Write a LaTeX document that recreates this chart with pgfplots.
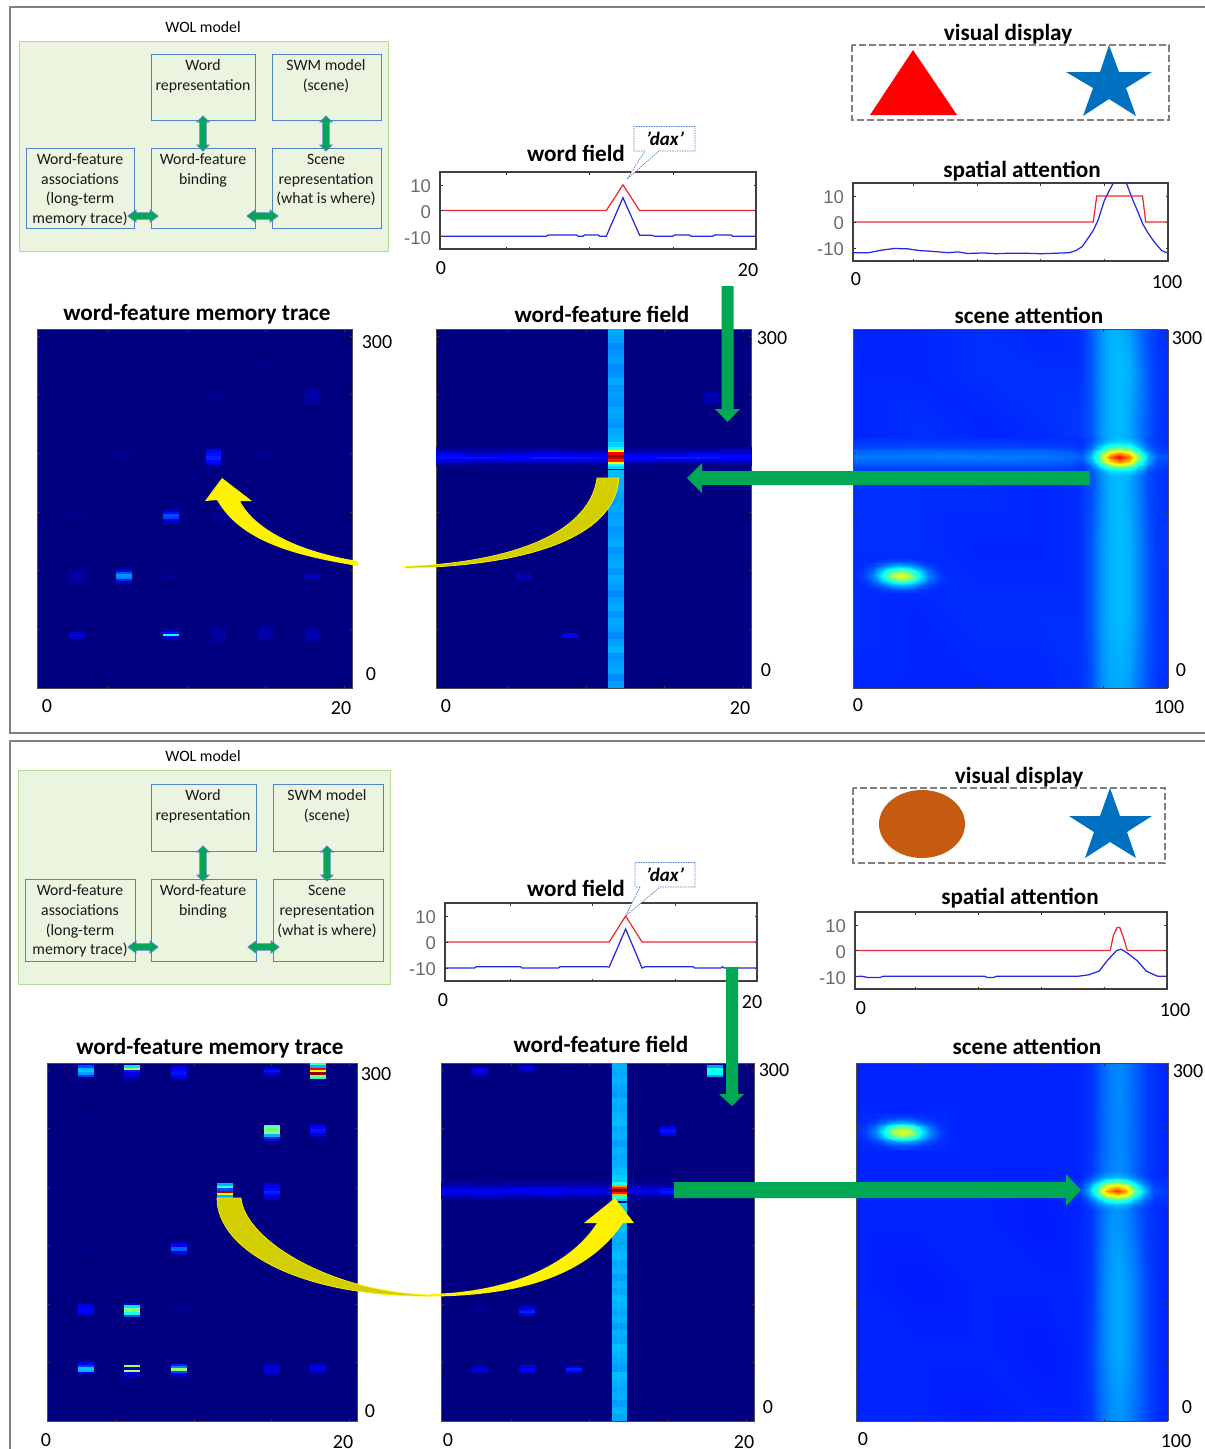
\documentclass[border=0pt]{standalone}
\usepackage{fontspec}
\setmainfont{Carlito}[Ligatures={Common,Rare}]
\newfontfamily\arialf{Liberation Sans}
\usepackage{pgfplots}
\usepackage{pgfplotstable}
\pgfplotsset{compat=1.18}
\definecolor{jetdark}{RGB}{0,0,128}
\definecolor{arrgreen}{RGB}{0,168,84}
\definecolor{boxgreen}{RGB}{234,244,222}
\definecolor{boxgreenb}{RGB}{181,220,149}
\definecolor{boxblue}{RGB}{84,130,200}
\definecolor{frameg}{RGB}{128,128,128}
\definecolor{olive}{RGB}{210,206,0}
\definecolor{starblue}{RGB}{0,112,192}
\definecolor{brownf}{RGB}{197,90,17}
\definecolor{lred}{RGB}{238,40,50}
\definecolor{lblue}{RGB}{40,40,225}
\pgfdeclareplotmark{hstripe}{\pgfpathrectangle{\pgfpoint{-7.8pt}{-1.2pt}}{\pgfpoint{15.6pt}{2.4pt}}\pgfusepathqfill}
\pgfdeclareplotmark{hcolumn}{\pgfpathrectangle{\pgfpoint{-7.8pt}{-3.6pt}}{\pgfpoint{15.6pt}{7.2pt}}\pgfusepathqfill}
\pgfdeclareplotmark{hwide}{\pgfpathrectangle{\pgfpoint{-16pt}{-1.2pt}}{\pgfpoint{32pt}{2.4pt}}\pgfusepathqfill}
\pgfplotsset{
  heat/.style={scale only axis,axis on top,colormap/jet,point meta min=0,point meta max=1,
    xticklabels={},yticklabels={},tick align=inside,
    tick style={black!80,line width=0.6pt},major tick length=2.5pt,
    axis line style={black!70,line width=1pt},
    ymin=0,ymax=306,ytick={50,100,150,200,250,300}},
  word/.style={heat,xmin=0.5,xmax=20.5,xtick={5,10,15,20},axis background/.style={fill=jetdark}},
  scene/.style={heat,xmin=0,xmax=100.5,xtick={20,40,60,80,100},view={0}{90},zmin=0,zmax=1},
  stripes/.style={scatter,only marks,mark=hstripe,point meta=explicit,scatter/use mapped color={draw=none,fill=mapped color}},
  columns/.style={stripes,mark=hcolumn},
  widths/.style={stripes,mark=hwide},
  surfp/.style={surf,shader=interp,mesh/cols=#1,point meta=z},
  line/.style={scale only axis,axis on top,ymin=-15,ymax=15,ytick={-10,0,10},yticklabels={{-10},{0},{10}},
    xticklabels={},tick align=inside,major tick length=2.5pt,
    tick style={black!80,line width=0.6pt},axis line style={black!75,line width=1.2pt},
    y tick label style={font=\arialf\fontsize{18.5}{20}\selectfont,text=black!58},yticklabel style={xshift=-5.5pt,yshift=-1.5pt}},
  redl/.style={lred,line width=1.25pt,no marks},
  bluel/.style={lblue,line width=1.25pt,no marks},
}
% lower-left scene spot, offsets from its centre (value at each grid point)
\pgfplotstableread[row sep=\\]{dx dy v\\
-15 -16 .165\\ -12 -16 .165\\ -9 -16 .165\\ -6 -16 .165\\ -3 -16 .165\\ 0 -16 .165\\ 3 -16 .165\\ 6 -16 .165\\ 9 -16 .165\\ 12 -16 .165\\ 15 -16 .165\\
-15 -12 .165\\ -12 -12 .165\\ -9 -12 .17\\ -6 -12 .18\\ -3 -12 .195\\ 0 -12 .20\\ 3 -12 .195\\ 6 -12 .18\\ 9 -12 .17\\ 12 -12 .165\\ 15 -12 .165\\
-15 -8 .165\\ -12 -8 .17\\ -9 -8 .19\\ -6 -8 .235\\ -3 -8 .285\\ 0 -8 .31\\ 3 -8 .285\\ 6 -8 .235\\ 9 -8 .19\\ 12 -8 .17\\ 15 -8 .165\\
-15 -4 .165\\ -12 -4 .18\\ -9 -4 .23\\ -6 -4 .33\\ -3 -4 .45\\ 0 -4 .505\\ 3 -4 .45\\ 6 -4 .33\\ 9 -4 .23\\ 12 -4 .18\\ 15 -4 .165\\
-15 0 .165\\ -12 0 .19\\ -9 0 .25\\ -6 0 .38\\ -3 0 .54\\ 0 0 .62\\ 3 0 .54\\ 6 0 .38\\ 9 0 .25\\ 12 0 .19\\ 15 0 .165\\
-15 4 .165\\ -12 4 .18\\ -9 4 .23\\ -6 4 .33\\ -3 4 .45\\ 0 4 .505\\ 3 4 .45\\ 6 4 .33\\ 9 4 .23\\ 12 4 .18\\ 15 4 .165\\
-15 8 .165\\ -12 8 .17\\ -9 8 .19\\ -6 8 .235\\ -3 8 .285\\ 0 8 .31\\ 3 8 .285\\ 6 8 .235\\ 9 8 .19\\ 12 8 .17\\ 15 8 .165\\
-15 12 .165\\ -12 12 .165\\ -9 12 .17\\ -6 12 .18\\ -3 12 .195\\ 0 12 .20\\ 3 12 .195\\ 6 12 .18\\ 9 12 .17\\ 12 12 .165\\ 15 12 .165\\
-15 16 .165\\ -12 16 .165\\ -9 16 .165\\ -6 16 .165\\ -3 16 .165\\ 0 16 .165\\ 3 16 .165\\ 6 16 .165\\ 9 16 .165\\ 12 16 .165\\ 15 16 .165\\
}\spotB
\newcommand\tl[3]{\node[anchor=base,font=\fontsize{20}{22}\selectfont] at (#1,#2+6.5) {#3};}
\newcommand\ttl[3]{\node[anchor=base,font=\bfseries\fontsize{23.2}{25}\selectfont] at (#1,#2+7.5) {#3};}
\newcommand\bt[3]{\node[anchor=base,font=\fontsize{15.8}{17}\selectfont,text=black!90] at (#1,#2+5.5) {#3};}
\newcommand\vda[3]{\filldraw[fill=arrgreen,draw=boxblue,line width=0.8pt] (#1,#2) -- (#1+6,#2+6) -- (#1+3.2,#2+6) -- (#1+3.2,#3-6) -- (#1+6,#3-6) -- (#1,#3) -- (#1-6,#3-6) -- (#1-3.2,#3-6) -- (#1-3.2,#2+6) -- (#1-6,#2+6) -- cycle;}
\newcommand\hda[3]{\filldraw[fill=arrgreen,draw=boxblue,line width=0.8pt] (#2,#1) -- (#2+8,#1-6) -- (#2+8,#1-3.2) -- (#3-8,#1-3.2) -- (#3-8,#1-6) -- (#3,#1) -- (#3-8,#1+6) -- (#3-8,#1+3.2) -- (#2+8,#1+3.2) -- (#2+8,#1+6) -- cycle;}
\begin{document}
\begin{tikzpicture}
\begin{scope}[x=1pt,y=-1pt]
\useasboundingbox (0,0) rectangle (1205,1449);
\clip (0,0) rectangle (1205,1449);
\draw[frameg,line width=2pt] (1215,6.5) -- (9.5,6.5) -- (9.5,733) -- (1215,733);
\draw[frameg,line width=2pt] (1215,741) -- (9.5,741) -- (9.5,1460);
\end{scope}

%%% TOP: word-feature memory trace
\begin{axis}[word,at={(37.5pt,-688pt)},anchor=south west,width=314.5pt,height=359pt]
\addplot[stripes] coordinates {
(3,47)[.06] (3,45)[.125] (3,43)[.06]
(9,49)[.06] (9,47)[.14] (9,45)[.38] (9,43)[.08]
(12,51)[.03] (12,49)[.03] (12,47)[.035] (12,45)[.035] (12,43)[.03] (12,41)[.03] (12,39)[.025]
(15,52)[.03] (15,50)[.04] (15,48)[.04] (15,46)[.04] (15,44)[.035] (15,42)[.03]
(18,49)[.04] (18,47)[.05] (18,45)[.05] (18,43)[.045] (18,41)[.035]
(3,100)[.025] (3,98)[.035] (3,96)[.04] (3,94)[.04] (3,92)[.035] (3,90)[.025]
(6,100)[.1] (6,98)[.2] (6,96)[.27] (6,94)[.25] (6,92)[.15] (6,90)[.07]
(9,97)[.02] (9,95)[.025] (9,93)[.02]
(18,97)[.05] (18,95)[.07] (18,93)[.05]
(3,148)[.015] (3,146)[.02] (3,144)[.015]
(9,151)[.07] (9,149)[.13] (9,147)[.2] (9,145)[.18] (9,143)[.1] (9,141)[.05]
(12,148)[.025] (12,146)[.03] (12,144)[.02]
(11.7,203)[.12] (11.7,201)[.13] (11.7,199)[.14] (11.7,197)[.16] (11.7,195)[.16] (11.7,193)[.13] (11.7,191)[.11]
(15,201)[.015] (15,199)[.02] (15,197)[.015]
(6,201)[.012] (6,199)[.02] (6,197)[.012] (6,195)[.02]
(2.3,186)[.015] (2.3,184)[.012]
(12,252)[.012] (12,250)[.025] (12,248)[.02]
(18,253)[.035] (18,251)[.04] (18,249)[.045] (18,247)[.045] (18,245)[.04] (18,243)[.035]
(15,276)[.012] (15,274)[.012]
};
\end{axis}
%%% TOP: word-feature field
\begin{axis}[word,at={(436pt,-688pt)},anchor=south west,width=315.5pt,height=359pt]
\addplot[widths] coordinates {
(1.5,204)[.02] (3.5,204)[.01] (5.5,204)[.02] (7.5,204)[.02] (9.5,204)[.01] (11.5,204)[.01] (13.5,204)[.01] (15.5,204)[.02] (17.5,204)[.02] (19.5,204)[.03]
(1.5,202)[.05] (3.5,202)[.04] (5.5,202)[.05] (7.5,202)[.06] (9.5,202)[.04] (11.5,202)[.04] (13.5,202)[.04] (15.5,202)[.04] (17.5,202)[.05] (19.5,202)[.06]
(1.5,200)[.09] (3.5,200)[.07] (5.5,200)[.08] (7.5,200)[.09] (9.5,200)[.08] (11.5,200)[.08] (13.5,200)[.08] (15.5,200)[.08] (17.5,200)[.09] (19.5,200)[.09]
(1.5,198)[.13] (3.5,198)[.11] (5.5,198)[.12] (7.5,198)[.12] (9.5,198)[.11] (11.5,198)[.11] (13.5,198)[.12] (15.5,198)[.12] (17.5,198)[.13] (19.5,198)[.13]
(1.5,196)[.14] (3.5,196)[.14] (5.5,196)[.13] (7.5,196)[.15] (9.5,196)[.14] (11.5,196)[.13] (13.5,196)[.12] (15.5,196)[.15] (17.5,196)[.15] (19.5,196)[.13]
(1.5,194)[.11] (3.5,194)[.09] (5.5,194)[.1] (7.5,194)[.1] (9.5,194)[.1] (11.5,194)[.1] (13.5,194)[.1] (15.5,194)[.09] (17.5,194)[.1] (19.5,194)[.11]
(1.5,192)[.06] (3.5,192)[.05] (5.5,192)[.05] (7.5,192)[.05] (9.5,192)[.05] (11.5,192)[.05] (13.5,192)[.05] (15.5,192)[.04] (17.5,192)[.04] (19.5,192)[.05]
(1.5,190)[.03] (3.5,190)[.02] (5.5,190)[.02] (7.5,190)[.02] (9.5,190)[.02] (11.5,190)[.02] (13.5,190)[.02] (15.5,190)[.01] (17.5,190)[.01] (19.5,190)[.02]
};
\addplot[columns] coordinates {
(11.9,3)[.28] (11.9,9)[.26] (11.9,15)[.29] (11.9,21)[.28] (11.9,27)[.27] (11.9,33)[.30] (11.9,39)[.28] (11.9,45)[.26] (11.9,51)[.28] (11.9,57)[.29]
(11.9,63)[.27] (11.9,69)[.29] (11.9,75)[.28] (11.9,81)[.26] (11.9,87)[.28] (11.9,93)[.29] (11.9,99)[.27] (11.9,105)[.29] (11.9,111)[.28] (11.9,117)[.27]
(11.9,123)[.29] (11.9,129)[.28] (11.9,135)[.27] (11.9,141)[.29] (11.9,147)[.28] (11.9,153)[.29] (11.9,159)[.28] (11.9,165)[.29] (11.9,171)[.30] (11.9,177)[.30] (11.9,183)[.31]
(11.9,207)[.33] (11.9,213)[.30] (11.9,219)[.29] (11.9,225)[.27] (11.9,231)[.28] (11.9,237)[.29] (11.9,243)[.27] (11.9,249)[.28] (11.9,255)[.27] (11.9,261)[.29] (11.9,267)[.27]
(11.9,273)[.26] (11.9,279)[.28] (11.9,285)[.27] (11.9,291)[.26] (11.9,297)[.28] (11.9,303)[.29]
};
\addplot[stripes] coordinates {
(11.9,188)[.34] (11.9,190)[.40] (11.9,192)[.62] (11.9,194)[.85] (11.9,196)[.92] (11.9,198)[1.0] (11.9,200)[.88] (11.9,202)[.62] (11.9,204)[.4]
(18,252)[.04] (18,250)[.05] (18,248)[.05] (18,246)[.05] (18,244)[.04]
(6,97)[.05] (6,95)[.055] (6,93)[.05]
(9,46)[.11] (9,44)[.12]
(9,147)[.015] (9,145)[.015]
(9,295)[.012] (9,293)[.012]
};
\end{axis}
%%% TOP: scene attention
\begin{axis}[scene,at={(853pt,-688pt)},anchor=south west,width=315pt,height=358.5pt]
\addplot3[surfp=14] coordinates {
(0,0,.16) (20,0,.16) (40,0,.16) (60,0,.16) (72,0,.17) (76,0,.20) (79,0,.26) (82,0,.29) (85,0,.29) (88,0,.28) (91,0,.24) (94,0,.20) (97,0,.18) (100.5,0,.17)
(0,60,.17) (20,60,.16) (40,60,.17) (60,60,.17) (72,60,.17) (76,60,.21) (79,60,.27) (82,60,.30) (85,60,.31) (88,60,.30) (91,60,.26) (94,60,.21) (97,60,.18) (100.5,60,.17)
(0,120,.17) (20,120,.17) (40,120,.16) (60,120,.16) (72,120,.17) (76,120,.21) (79,120,.27) (82,120,.30) (85,120,.31) (88,120,.30) (91,120,.26) (94,120,.21) (97,120,.18) (100.5,120,.18)
(0,170,.17) (20,170,.17) (40,170,.17) (60,170,.16) (72,170,.17) (76,170,.20) (79,170,.26) (82,170,.30) (85,170,.31) (88,170,.29) (91,170,.25) (94,170,.20) (97,170,.18) (100.5,170,.17)
(0,230,.16) (20,230,.17) (40,230,.16) (60,230,.17) (72,230,.18) (76,230,.21) (79,230,.27) (82,230,.30) (85,230,.31) (88,230,.29) (91,230,.25) (94,230,.21) (97,230,.18) (100.5,230,.17)
(0,270,.16) (20,270,.16) (40,270,.17) (60,270,.17) (72,270,.17) (76,270,.21) (79,270,.27) (82,270,.30) (85,270,.31) (88,270,.30) (91,270,.26) (94,270,.21) (97,270,.18) (100.5,270,.17)
(0,306,.16) (20,306,.16) (40,306,.17) (60,306,.16) (72,306,.17) (76,306,.21) (79,306,.27) (82,306,.30) (85,306,.30) (88,306,.28) (91,306,.24) (94,306,.20) (97,306,.18) (100.5,306,.17)
};
\addplot3[surfp=5] coordinates {
(0,181,.17) (20,181,.17) (40,181,.165) (60,181,.165) (70,181,.17)
(0,188,.19) (20,188,.19) (40,188,.19) (60,188,.19) (70,188,.185)
(0,192,.22) (20,192,.215) (40,192,.22) (60,192,.215) (70,192,.21)
(0,197,.245) (20,197,.245) (40,197,.25) (60,197,.245) (70,197,.23)
(0,202,.22) (20,202,.23) (40,202,.225) (60,202,.225) (70,202,.21)
(0,206,.19) (20,206,.195) (40,206,.19) (60,206,.19) (70,206,.185)
(0,213,.17) (20,213,.17) (40,213,.17) (60,213,.165) (70,213,.17)
};
\addplot3[surfp=11] coordinates {
(70,181,.17) (73,181,.17) (76,181,.20) (79,181,.26) (82,181,.30) (85,181,.31) (88,181,.30) (91,181,.26) (94,181,.20) (97,181,.18) (100.5,181,.17)
(70,185,.175) (73,185,.17) (76,185,.21) (79,185,.28) (82,185,.34) (85,185,.35) (88,185,.34) (91,185,.28) (94,185,.21) (97,185,.18) (100.5,185,.17)
(70,189,.19) (73,189,.18) (76,189,.23) (79,189,.35) (82,189,.45) (85,189,.49) (88,189,.45) (91,189,.35) (94,189,.23) (97,189,.19) (100.5,189,.18)
(70,193,.21) (73,193,.20) (76,193,.28) (79,193,.46) (82,193,.65) (85,193,.73) (88,193,.65) (91,193,.46) (94,193,.28) (97,193,.20) (100.5,193,.19)
(70,197,.23) (73,197,.22) (76,197,.31) (79,197,.53) (82,197,.77) (85,197,.88) (88,197,.77) (91,197,.53) (94,197,.31) (97,197,.22) (100.5,197,.21)
(70,201,.215) (73,201,.20) (76,201,.28) (79,201,.46) (82,201,.65) (85,201,.73) (88,201,.65) (91,201,.46) (94,201,.28) (97,201,.20) (100.5,201,.19)
(70,205,.19) (73,205,.18) (76,205,.23) (79,205,.35) (82,205,.45) (85,205,.49) (88,205,.45) (91,205,.35) (94,205,.23) (97,205,.19) (100.5,205,.18)
(70,209,.175) (73,209,.17) (76,209,.21) (79,209,.28) (82,209,.34) (85,209,.35) (88,209,.34) (91,209,.28) (94,209,.21) (97,209,.18) (100.5,209,.17)
(70,213,.17) (73,213,.17) (76,213,.20) (79,213,.26) (82,213,.30) (85,213,.31) (88,213,.30) (91,213,.26) (94,213,.20) (97,213,.18) (100.5,213,.17)
};
\addplot3[surfp=11] table[x expr=\thisrow{dx}+15.3,y expr=\thisrow{dy}+96,z=v] {\spotB};
\end{axis}
%%% TOP: word field
\begin{axis}[line,at={(440pt,-249pt)},anchor=south west,width=316pt,height=77pt,xmin=1,xmax=20,xtick={5,10,15,20}]
\addplot[bluel] coordinates {(1,-10.3)(1.1,-10)(7.4,-10)(7.5,-9.5)(9.2,-9.5)(9.3,-10)(9.6,-10)(9.7,-9.5)(10.5,-9.5)(10.6,-10)(11,-10)(12,5)(13,-9.6)(13.7,-9.6)(13.9,-10)(15,-10)(15.1,-9.5)(16,-9.5)(16.1,-10)(17.4,-10)(17.5,-9.5)(18.5,-9.5)(18.6,-10)(20,-10)};
\addplot[redl] coordinates {(1,0)(11,0)(12,10)(13,0)(20,0)};
\end{axis}
%%% TOP: spatial attention
\begin{axis}[line,at={(853pt,-261pt)},anchor=south west,width=315pt,height=78pt,xmin=1,xmax=100,xtick={20,40,60,80,100}]
\addplot[bluel] coordinates {(1,-11.8)(6,-11.8)(10,-10.8)(14,-10.2)(18,-10.3)(22,-11)(25,-11.2)(28,-11.5)(31,-11.8)(34,-11.5)(37,-12.1)(42,-11.9)(46,-12.2)(50,-12)(55,-12)(60,-12.2)(65,-12)(69,-11.8)(71,-11)(73,-9.5)(75,-6)(76.5,-3.2)(78,.6)(80,8.3)(81.5,12)(82.7,14.7)(85,17)(87,14.7)(88,11.5)(89,8.3)(90.5,4)(92,-.6)(93.6,-4)(95.3,-7)(96.6,-9)(98,-11)(100,-12)};
\addplot[redl] coordinates {(1,0)(76.5,0)(77.6,10)(92,10)(93,0)(100,0)};
\end{axis}

%%% BOTTOM: word-feature memory trace
\begin{axis}[word,at={(47pt,-1421pt)},anchor=south west,width=310pt,height=358pt]
\addplot[stripes] coordinates {
(3,304)[.06] (3,303)[.2] (3,301)[.3] (3,299)[.32] (3,297)[.28] (3,295)[.18]
(6,303)[.35] (6,301)[.55] (6,299)[.15] (6,297)[.1] (6,295)[.08] (6,293)[.06]
(9,303)[.08] (9,301)[.12] (9,299)[.13] (9,297)[.14] (9,295)[.12] (9,293)[.07]
(15,301)[.09] (15,299)[.14] (15,297)[.09]
(18,305)[.45] (18,303)[.3] (18,301)[.88] (18,299)[.62] (18,297)[.98] (18,295)[.5] (18,293)[.4]
(15,252)[.45] (15,250)[.5] (15,248)[.5] (15,246)[.5] (15,244)[.3] (15,242)[.15] (15,240)[.08]
(18,253)[.06] (18,251)[.12] (18,249)[.15] (18,247)[.14] (18,245)[.08] (18,243)[.05]
(12,202)[.3] (12,200)[.42] (12,198)[.2] (12,196)[.95] (12,194)[.6] (12,192)[.3] (12,190)[.25]
(15,202)[.06] (15,200)[.12] (15,198)[.13] (15,196)[.16] (15,194)[.14] (15,192)[.1] (15,190)[.05]
(9,152)[.06] (9,150)[.13] (9,148)[.22] (9,146)[.22] (9,144)[.12] (9,142)[.05]
(3,148)[.012] (3,146)[.015]
(3,99)[.08] (3,97)[.12] (3,95)[.13] (3,93)[.12] (3,91)[.08]
(6,100)[.1] (6,98)[.35] (6,96)[.5] (6,94)[.5] (6,92)[.4] (6,90)[.2]
(9,97)[.02] (9,95)[.025] (9,93)[.02]
(3,49)[.1] (3,47)[.18] (3,45)[.32] (3,43)[.3] (3,41)[.12]
(6,47)[.55] (6,45)[.1] (6,43)[.55] (6,41)[.1] (6,39)[.07]
(9,48)[.15] (9,46)[.25] (9,44)[.52] (9,42)[.2] (9,40)[.1] (9,38)[.05]
(15,48)[.05] (15,46)[.08] (15,44)[.09] (15,42)[.08] (15,40)[.05]
(18,48)[.06] (18,46)[.1] (18,44)[.1] (18,42)[.07]
(3,261)[.012] (4,261)[.012] (2.8,205)[.012] (3.5,205)[.012] (15.5,206)[.012] (15.8,263)[.012]
};
\end{axis}
%%% BOTTOM: word-feature field
\begin{axis}[word,at={(441pt,-1421pt)},anchor=south west,width=313pt,height=358pt]
\addplot[widths] coordinates {
(1.5,203)[.03] (3.5,203)[.02] (5.5,203)[.03] (7.5,203)[.03] (9.5,203)[.03] (11.5,203)[.02] (13.5,203)[.02] (15.5,203)[.02]
(1.5,201)[.06] (3.5,201)[.05] (5.5,201)[.06] (7.5,201)[.06] (9.5,201)[.06] (11.5,201)[.05] (13.5,201)[.05] (15.5,201)[.04]
(1.5,199)[.09] (3.5,199)[.08] (5.5,199)[.1] (7.5,199)[.1] (9.5,199)[.09] (11.5,199)[.08] (13.5,199)[.08] (15.5,199)[.07]
(1.5,197)[.12] (3.5,197)[.1] (5.5,197)[.12] (7.5,197)[.11] (9.5,197)[.11] (11.5,197)[.1] (13.5,197)[.1] (15.5,197)[.08]
(1.5,195)[.11] (3.5,195)[.12] (5.5,195)[.11] (7.5,195)[.12] (9.5,195)[.1] (11.5,195)[.09] (13.5,195)[.09] (15.5,195)[.08]
(1.5,193)[.08] (3.5,193)[.09] (5.5,193)[.08] (7.5,193)[.09] (9.5,193)[.07] (11.5,193)[.06] (13.5,193)[.06] (15.5,193)[.05]
(1.5,191)[.04] (3.5,191)[.05] (5.5,191)[.04] (7.5,191)[.04] (9.5,191)[.03] (11.5,191)[.03] (13.5,191)[.03] (15.5,191)[.02]
};
\addplot[columns] coordinates {
(11.9,3)[.29] (11.9,9)[.30] (11.9,15)[.28] (11.9,21)[.30] (11.9,27)[.29] (11.9,33)[.30] (11.9,39)[.31] (11.9,45)[.28] (11.9,51)[.29] (11.9,57)[.30]
(11.9,63)[.31] (11.9,69)[.29] (11.9,75)[.30] (11.9,81)[.28] (11.9,87)[.30] (11.9,93)[.29] (11.9,99)[.30] (11.9,105)[.31] (11.9,111)[.29] (11.9,117)[.30]
(11.9,123)[.28] (11.9,129)[.30] (11.9,135)[.29] (11.9,141)[.31] (11.9,147)[.30] (11.9,153)[.29] (11.9,159)[.30] (11.9,165)[.31] (11.9,171)[.31] (11.9,177)[.32] (11.9,183)[.33]
(11.9,207)[.33] (11.9,213)[.31] (11.9,219)[.30] (11.9,225)[.29] (11.9,231)[.30] (11.9,237)[.28] (11.9,243)[.30] (11.9,249)[.29] (11.9,255)[.31] (11.9,261)[.30] (11.9,267)[.29]
(11.9,273)[.30] (11.9,279)[.28] (11.9,285)[.29] (11.9,291)[.30] (11.9,297)[.29] (11.9,303)[.30]
};
\addplot[stripes] coordinates {
(11.9,189)[.34] (11.9,191)[.42] (11.9,193)[.7] (11.9,195)[.85] (11.9,197)[.98] (11.9,199)[.85] (11.9,201)[.72] (11.9,203)[.4]
(3,301)[.09] (3,299)[.12] (3,297)[.09]
(6,302)[.1] (6,300)[.05]
(9,299)[.012]
(18,303)[.28] (18,301)[.4] (18,299)[.4] (18,297)[.38] (18,295)[.28]
(15,251)[.1] (15,249)[.14] (15,247)[.14] (15,245)[.1]
(15,198)[.13] (15,196)[.15] (15,194)[.13]
(3,98)[.025] (3,96)[.025]
(6,97)[.08] (6,95)[.13] (6,93)[.16] (6,91)[.1]
(3,46)[.07] (3,44)[.08] (3,42)[.07]
(6,47)[.1] (6,45)[.05] (6,44)[.12] (6,42)[.08]
(9,46)[.09] (9,44)[.15] (9,42)[.09]
(9,147)[.02] (9,145)[.02]
};
\end{axis}
%%% BOTTOM: scene attention
\begin{axis}[scene,at={(856pt,-1421pt)},anchor=south west,width=312pt,height=358pt]
\addplot3[surfp=14] coordinates {
(0,0,.16) (20,0,.16) (40,0,.15) (60,0,.16) (72,0,.16) (76,0,.18) (79,0,.23) (82,0,.26) (85,0,.27) (88,0,.25) (91,0,.22) (94,0,.19) (97,0,.17) (100.5,0,.16)
(0,60,.16) (20,60,.16) (40,60,.16) (60,60,.15) (72,60,.16) (76,60,.19) (79,60,.24) (82,60,.28) (85,60,.29) (88,60,.27) (91,60,.23) (94,60,.19) (97,60,.17) (100.5,60,.16)
(0,120,.16) (20,120,.15) (40,120,.16) (60,120,.16) (72,120,.16) (76,120,.18) (79,120,.24) (82,120,.28) (85,120,.29) (88,120,.27) (91,120,.23) (94,120,.19) (97,120,.17) (100.5,120,.16)
(0,170,.16) (20,170,.16) (40,170,.16) (60,170,.15) (72,170,.16) (76,170,.18) (79,170,.23) (82,170,.27) (85,170,.27) (88,170,.25) (91,170,.21) (94,170,.18) (97,170,.17) (100.5,170,.16)
(0,230,.16) (20,230,.16) (40,230,.16) (60,230,.16) (72,230,.16) (76,230,.18) (79,230,.22) (82,230,.25) (85,230,.26) (88,230,.24) (91,230,.21) (94,230,.18) (97,230,.17) (100.5,230,.16)
(0,270,.16) (20,270,.16) (40,270,.16) (60,270,.16) (72,270,.16) (76,270,.18) (79,270,.22) (82,270,.25) (85,270,.26) (88,270,.24) (91,270,.21) (94,270,.18) (97,270,.17) (100.5,270,.16)
(0,306,.16) (20,306,.16) (40,306,.16) (60,306,.16) (72,306,.16) (76,306,.18) (79,306,.22) (82,306,.25) (85,306,.26) (88,306,.24) (91,306,.21) (94,306,.18) (97,306,.17) (100.5,306,.16)
};
\addplot3[surfp=11] coordinates {
(69,181,.16) (72,181,.16) (75,181,.18) (78,181,.22) (81,181,.26) (84,181,.27) (87,181,.26) (90,181,.22) (93,181,.19) (96,181,.17) (100.5,181,.16)
(69,185,.16) (72,185,.16) (75,185,.19) (78,185,.24) (81,185,.29) (84,185,.31) (87,185,.29) (90,185,.24) (93,185,.20) (96,185,.17) (100.5,185,.17)
(69,189,.16) (72,189,.17) (75,189,.22) (78,189,.31) (81,189,.41) (84,189,.44) (87,189,.41) (90,189,.31) (93,189,.22) (96,189,.18) (100.5,189,.17)
(69,193,.16) (72,193,.18) (75,193,.27) (78,193,.42) (81,193,.60) (84,193,.67) (87,193,.60) (90,193,.42) (93,193,.27) (96,193,.19) (100.5,193,.17)
(69,197,.16) (72,197,.19) (75,197,.30) (78,197,.49) (81,197,.72) (84,197,.82) (87,197,.72) (90,197,.49) (93,197,.30) (96,197,.20) (100.5,197,.18)
(69,201,.16) (72,201,.18) (75,201,.27) (78,201,.42) (81,201,.60) (84,201,.67) (87,201,.60) (90,201,.42) (93,201,.27) (96,201,.19) (100.5,201,.17)
(69,205,.16) (72,205,.17) (75,205,.22) (78,205,.31) (81,205,.41) (84,205,.44) (87,205,.41) (90,205,.31) (93,205,.22) (96,205,.18) (100.5,205,.17)
(69,209,.16) (72,209,.16) (75,209,.19) (78,209,.24) (81,209,.29) (84,209,.31) (87,209,.29) (90,209,.24) (93,209,.20) (96,209,.17) (100.5,209,.17)
(69,213,.16) (72,213,.16) (75,213,.18) (78,213,.22) (81,213,.26) (84,213,.27) (87,213,.26) (90,213,.22) (93,213,.19) (96,213,.17) (100.5,213,.16)
};
\addplot3[surfp=11] table[x expr=\thisrow{dx}+15,y expr=\thisrow{dy}+247,z=v] {\spotB};
\end{axis}
%%% BOTTOM: word field
\begin{axis}[line,at={(445pt,-981pt)},anchor=south west,width=312pt,height=78pt,xmin=1,xmax=20,xtick={5,10,15,20}]
\addplot[bluel] coordinates {(1,-10)(2.8,-10)(2.9,-9.5)(5.6,-9.5)(5.7,-10)(7.9,-10)(8,-9.5)(10.7,-9.5)(11,-9.6)(12,5)(13,-10)(13.2,-9.5)(16.1,-9.5)(16.2,-10)(17.8,-10)(17.9,-9.5)(18,-10)(20,-10)};
\addplot[redl] coordinates {(1,0)(11,0)(12,10)(13,0)(20,0)};
\end{axis}
%%% BOTTOM: spatial attention
\begin{axis}[line,at={(855pt,-989pt)},anchor=south west,width=312pt,height=77pt,xmin=1,xmax=100,xtick={20,40,60,80,100}]
\addplot[bluel] coordinates {(1,-10.2)(3,-10)(5,-10.5)(9,-10.5)(10,-10)(42,-10)(43,-10.5)(45,-10.5)(46,-10)(72,-10)(75,-9.5)(78.5,-8)(81,-4)(84,0)(85.5,.5)(87.4,-1)(90.6,-4)(93.4,-8)(96,-9.5)(97,-10)(100,-10)};
\addplot[redl] coordinates {(1,0)(82,0)(83,6)(84.2,9)(85,9)(86.2,5)(87.4,0)(100,0)};
\end{axis}

\begin{scope}[x=1pt,y=-1pt]
\clip (0,0) rectangle (1205,1449);
%%% model box, top
\filldraw[fill=boxgreen,draw=boxgreenb,line width=0.8pt] (19,41) rectangle (388,251);
\node[anchor=base,font=\fontsize{15.8}{17}\selectfont] at (203,32) {WOL model};
\foreach \a/\b/\c/\d in {151/54/255/120,272/54/381/120,26/148/134/228,151/148/255/228,272/148/381/228}
  \draw[boxblue,line width=1pt] (\a,\b) rectangle (\c,\d);
\bt{203}{65}{Word}\bt{203}{85}{representation}\bt{326}{65}{SWM model}\bt{326}{85}{(scene)}
\bt{80}{159}{Word-feature}\bt{80}{178.5}{associations}\bt{80}{198}{(long-term}\bt{80}{217.5}{memory trace)}
\bt{203}{159}{Word-feature}\bt{203}{179}{binding}\bt{326}{159}{Scene}\bt{326}{179}{representation}\bt{326}{198}{(what is where)}
\vda{203}{116}{151}\vda{326}{116}{151}\hda{216}{128}{158}\hda{216}{247}{278}
%%% model box, bottom
\filldraw[fill=boxgreen,draw=boxgreenb,line width=0.8pt] (18,770) rectangle (390,984);
\node[anchor=base,font=\fontsize{15.8}{17}\selectfont] at (203,761) {WOL model};
\foreach \a/\b/\c/\d in {151/784/256/851,273/784/383/851,25/879/135/961,151/879/256/961,273/879/383/961}
  \draw[boxblue,line width=1pt] (\a,\b) rectangle (\c,\d);
\bt{203}{795}{Word}\bt{203}{815}{representation}\bt{327}{795}{SWM model}\bt{327}{815}{(scene)}
\bt{80}{890}{Word-feature}\bt{80}{910}{associations}\bt{80}{930}{(long-term}\bt{80}{949}{memory trace)}
\bt{203}{890}{Word-feature}\bt{203}{910}{binding}\bt{327}{890}{Scene}\bt{327}{910}{representation}\bt{327}{930}{(what is where)}
\vda{203}{846}{881}\vda{327}{846}{881}\hda{947}{128}{158}\hda{947}{248}{279}
%%% displays
\draw[frameg,line width=2.6pt,dash pattern=on 7pt off 3pt] (852,45) rectangle (1169,120);
\fill[red] (913,50) -- (957,115) -- (870,115) -- cycle;
\fill[starblue] (1109,45) -- (1119,72) -- (1152,72) -- (1126,88) -- (1136,116) -- (1109,99) -- (1083,116) -- (1093,88) -- (1066,72) -- (1100,72) -- cycle;
\draw[frameg,line width=2.6pt,dash pattern=on 7pt off 3pt] (853,788) rectangle (1165,863);
\fill[brownf] (922,824) ellipse [x radius=43,y radius=34];
\fill[starblue] (1110,788) -- (1120,816) -- (1152,816) -- (1127,832) -- (1136,858) -- (1110,842) -- (1085,858) -- (1094,832) -- (1069,816) -- (1100,816) -- cycle;
%%% callouts
\filldraw[fill=white,draw=boxblue,line width=0.7pt,dash pattern=on 1.5pt off 1pt] (645,151) -- (634,151) -- (634,126.5) -- (695,126.5) -- (695,151) -- (659,151) -- (627,179) -- cycle;
\node[font=\bfseries\itshape\fontsize{19}{21}\selectfont,anchor=base] at (665,145) {'dax'};
\filldraw[fill=white,draw=boxblue,line width=0.7pt,dash pattern=on 1.5pt off 1pt] (640,887) -- (635,887) -- (635,862.5) -- (695,862.5) -- (695,887) -- (660,887) -- (625.5,916) -- cycle;
\node[font=\bfseries\itshape\fontsize{19}{21}\selectfont,anchor=base] at (665,881) {'dax'};
%%% titles
\ttl{576}{154}{word field}\ttl{1022}{170}{spatial attention}\ttl{1008}{33}{visual display}
\ttl{197}{313}{word-feature memory trace}\ttl{602}{315}{word-feature field}\ttl{1029}{316}{scene attention}
\ttl{576}{889}{word field}\ttl{1020}{897}{spatial attention}\ttl{1019}{776}{visual display}
\ttl{210}{1047}{word-feature memory trace}\ttl{601}{1045}{word-feature field}\ttl{1027}{1047}{scene attention}
%%% typed axis numbers
\tl{377}{342}{300}\tl{371}{674}{0}\tl{47}{706}{0}\tl{341}{708}{20}
\tl{772}{338}{300}\tl{766}{670}{0}\tl{446}{706}{0}\tl{740}{708}{20}
\tl{1187}{338}{300}\tl{1181}{670}{0}\tl{858}{705}{0}\tl{1169}{707}{100}
\tl{441}{268}{0}\tl{748}{270}{20}\tl{856}{279}{0}\tl{1167}{282}{100}
\tl{376}{1074}{300}\tl{370}{1411}{0}\tl{46}{1440}{0}\tl{343}{1441.5}{20}
\tl{774}{1070}{300}\tl{768}{1407}{0}\tl{448}{1440}{0}\tl{744}{1441.5}{20}
\tl{1188}{1071}{300}\tl{1187}{1407}{0}\tl{863}{1439}{0}\tl{1176}{1441}{100}
\tl{443}{1000}{0}\tl{752}{1002}{20}\tl{861}{1008}{0}\tl{1175}{1010}{100}
%%% green arrows
\fill[arrgreen] (721.5,286) -- (733.5,286) -- (733.5,409) -- (740,409) -- (727.5,422) -- (715,409) -- (721.5,409) -- cycle;
\fill[arrgreen] (1090,471) -- (1090,485) -- (702,485) -- (702,493) -- (687,478) -- (702,463) -- (702,471) -- cycle;
\fill[arrgreen] (726,967) -- (738,967) -- (738,1094) -- (744,1094) -- (732,1106) -- (719,1094) -- (726,1094) -- cycle;
\fill[arrgreen] (674,1182) -- (1066,1182) -- (1066,1174) -- (1081,1190) -- (1066,1206) -- (1066,1198) -- (674,1198) -- cycle;
%%% yellow arrows
\fill[yellow] (222,478) -- (252,501) -- (240,501) .. controls (255,530) and (300,552) .. (358,561) -- (358,566) .. controls (290,555) and (240,540) .. (217,500) -- (205,501) -- cycle;
\filldraw[fill=olive,draw=yellow,line width=0.7pt] (597,478) -- (619,478) .. controls (615,540) and (520,566) .. (405,568) -- (405,566.5) .. controls (520,562) and (590,530) .. (597,478) -- cycle;
\filldraw[fill=olive,draw=yellow,line width=0.7pt] (217,1198) -- (241,1198) .. controls (245,1240) and (330,1292) .. (430,1295) -- (430,1296) .. controls (300,1297) and (217,1250) .. (217,1198) -- cycle;
\fill[yellow] (430,1294) .. controls (510,1292) and (570,1265) .. (597,1223) -- (584,1223) -- (615,1198) -- (634,1223) -- (623,1223) .. controls (585,1280) and (510,1296) .. (430,1296.5) -- cycle;
\end{scope}
\end{tikzpicture}
\end{document}
